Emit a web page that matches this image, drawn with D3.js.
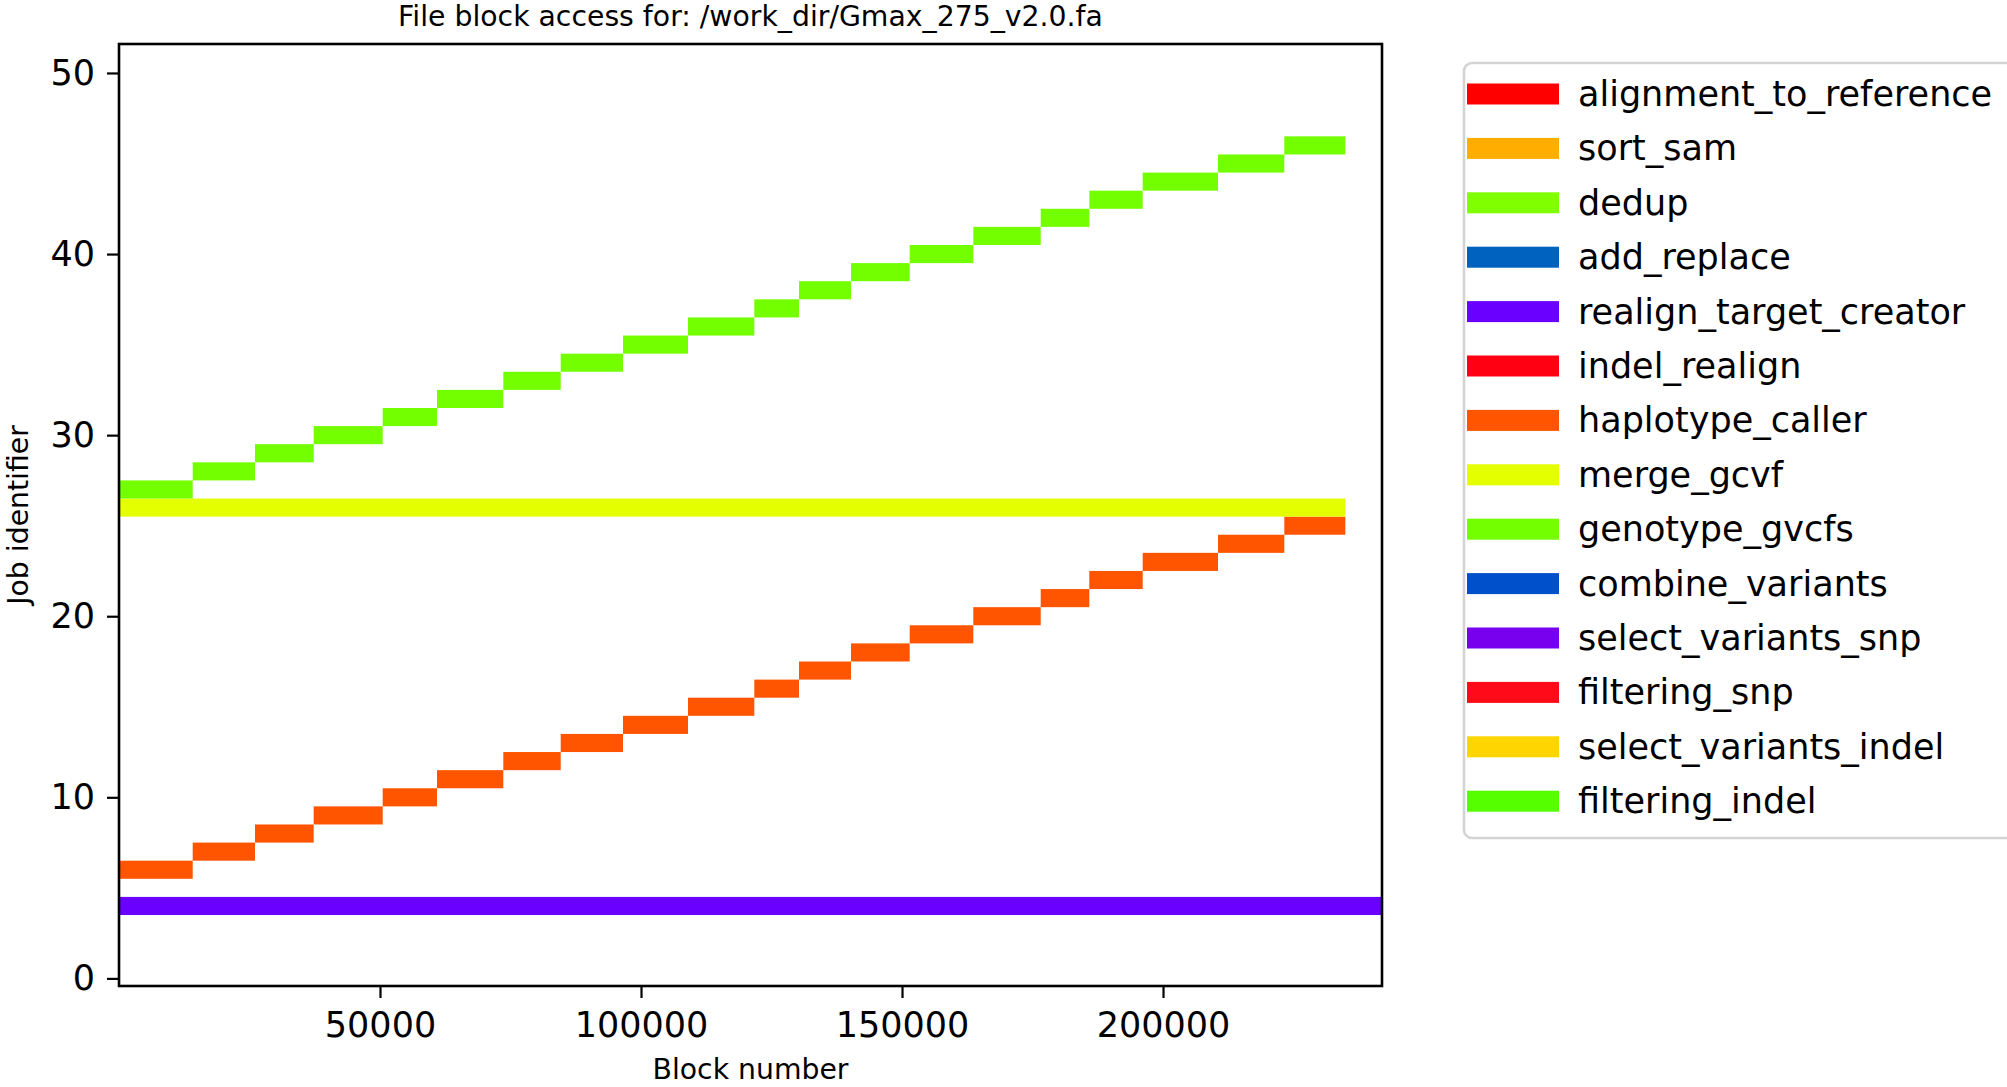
<!DOCTYPE html>
<html>
<head>
<meta charset="utf-8">
<script src="https://cdn.jsdelivr.net/npm/d3@7"></script>
<style>
  html, body { margin: 0; padding: 0; background: #ffffff; }
  svg { display: block; font-family: "DejaVu Sans", sans-serif; }
</style>
</head>
<body>
<div id="chart"></div>
<script>
// ---------------- data ----------------
const titleText = "File block access for: /work_dir/Gmax_275_v2.0.fa";
const xLabel = "Block number";
const yLabel = "Job identifier";

const xTicks = [50000, 100000, 150000, 200000];
const yTicks = [0, 10, 20, 30, 40, 50];
const xMax = 241950;
const yMin = -0.42, yMax = 51.6;

// block boundaries (shared by the stepped jobs)
const blockEdges = [0, 14119, 26053, 37299, 50517, 60920, 73620, 84617, 96551, 109003,
  121705, 130268, 140230, 151475, 163658, 176570, 185880, 196110, 210535, 223236, 234925];

const haplotypeJobs = [6, 7, 8, 9, 10, 11, 12, 13, 14, 15, 16, 17, 18, 19, 20, 21, 22, 23, 24, 25];
const genotypeJobs = [27, 28, 29, 30, 31, 32, 33, 34, 35, 36, 37, 38, 39, 40, 41, 42, 43, 44, 45, 46];

const realignJob = 4, realignStart = 0, realignEnd = 241950;
const mergeJob = 26, mergeStart = 0, mergeEnd = 234925;

const legendNames = ["alignment_to_reference", "sort_sam", "dedup", "add_replace",
  "realign_target_creator", "indel_realign", "haplotype_caller", "merge_gcvf",
  "genotype_gvcfs", "combine_variants", "select_variants_snp", "filtering_snp",
  "select_variants_indel", "filtering_indel"];
const legendColors = ["#ff0000", "#ffad00", "#80ff00", "#0062bf",
  "#6a00ff", "#ff0012", "#ff5500", "#e4ff00",
  "#73ff00", "#0050cc", "#7800ef", "#ff0a19",
  "#ffd500", "#55ff00"];

// ---------------- build segments ----------------
const colorOf = name => legendColors[legendNames.indexOf(name)];
const segments = [];
segments.push({job: realignJob, x0: realignStart, x1: realignEnd, name: "realign_target_creator"});
haplotypeJobs.forEach((j, i) => segments.push({job: j, x0: blockEdges[i], x1: blockEdges[i + 1], name: "haplotype_caller"}));
segments.push({job: mergeJob, x0: mergeStart, x1: mergeEnd, name: "merge_gcvf"});
genotypeJobs.forEach((j, i) => segments.push({job: j, x0: blockEdges[i], x1: blockEdges[i + 1], name: "genotype_gvcfs"}));

// ---------------- drawing ----------------
const W = 2007, H = 1087;
const plot = {left: 119, right: 1382, top: 44, bottom: 986};

const svg = d3.select("#chart").append("svg").attr("width", W).attr("height", H);

const x = d3.scaleLinear().domain([0, xMax]).range([plot.left, plot.right]);
const y = d3.scaleLinear().domain([yMin, yMax]).range([plot.bottom, plot.top]);

// bars
svg.append("g").selectAll("rect").data(segments).enter().append("rect")
  .attr("x", d => x(d.x0))
  .attr("width", d => x(d.x1) - x(d.x0))
  .attr("y", d => y(d.job + 0.5))
  .attr("height", d => y(d.job - 0.5) - y(d.job + 0.5))
  .attr("fill", d => colorOf(d.name));

// axes
const xAxis = d3.axisBottom(x).tickValues(xTicks).tickFormat(d3.format("d")).tickSize(12).tickPadding(14);
const yAxis = d3.axisLeft(y).tickValues(yTicks).tickFormat(d3.format("d")).tickSize(12).tickPadding(12);

const gx = svg.append("g").attr("transform", `translate(0,${plot.bottom})`).call(xAxis);
const gy = svg.append("g").attr("transform", `translate(${plot.left},0)`).call(yAxis);
[gx, gy].forEach(g => {
  g.select(".domain").remove();
  g.selectAll(".tick line").attr("stroke", "#000").attr("stroke-width", 2.2);
  g.selectAll(".tick text").attr("fill", "#000").style("font-size", "35px").style("font-family", "DejaVu Sans");
});
gx.selectAll(".tick text").attr("dy", "0.71em");

// frame
svg.append("rect")
  .attr("x", plot.left).attr("y", plot.top)
  .attr("width", plot.right - plot.left).attr("height", plot.bottom - plot.top)
  .attr("fill", "none").attr("stroke", "#000").attr("stroke-width", 2.6);

// title and labels
svg.append("text").attr("x", (plot.left + plot.right) / 2).attr("y", 26)
  .attr("text-anchor", "middle").style("font-size", "28.3px").attr("fill", "#000").text(titleText);
svg.append("text").attr("x", (plot.left + plot.right) / 2).attr("y", 1079)
  .attr("text-anchor", "middle").style("font-size", "28.3px").attr("fill", "#000").text(xLabel);
svg.append("text").attr("transform", `translate(28,${(plot.top + plot.bottom) / 2}) rotate(-90)`)
  .attr("text-anchor", "middle").style("font-size", "28.3px").attr("fill", "#000").text(yLabel);

// legend
const lg = svg.append("g");
lg.append("rect").attr("x", 1464).attr("y", 63).attr("width", 560).attr("height", 775)
  .attr("rx", 8).attr("fill", "#fff").attr("stroke", "#d4d4d4").attr("stroke-width", 2.6);
const rowStep = 54.4, firstCenter = 94;
const items = lg.selectAll("g.item").data(legendNames).enter().append("g").attr("class", "item")
  .attr("transform", (d, i) => `translate(0,${firstCenter + i * rowStep})`);
items.append("rect").attr("x", 1467).attr("y", -10.5).attr("width", 92).attr("height", 21)
  .attr("fill", (d, i) => legendColors[i]);
items.append("text").attr("x", 1578).attr("y", 12).style("font-size", "35px").attr("fill", "#000")
  .text(d => d);
</script>
</body>
</html>
